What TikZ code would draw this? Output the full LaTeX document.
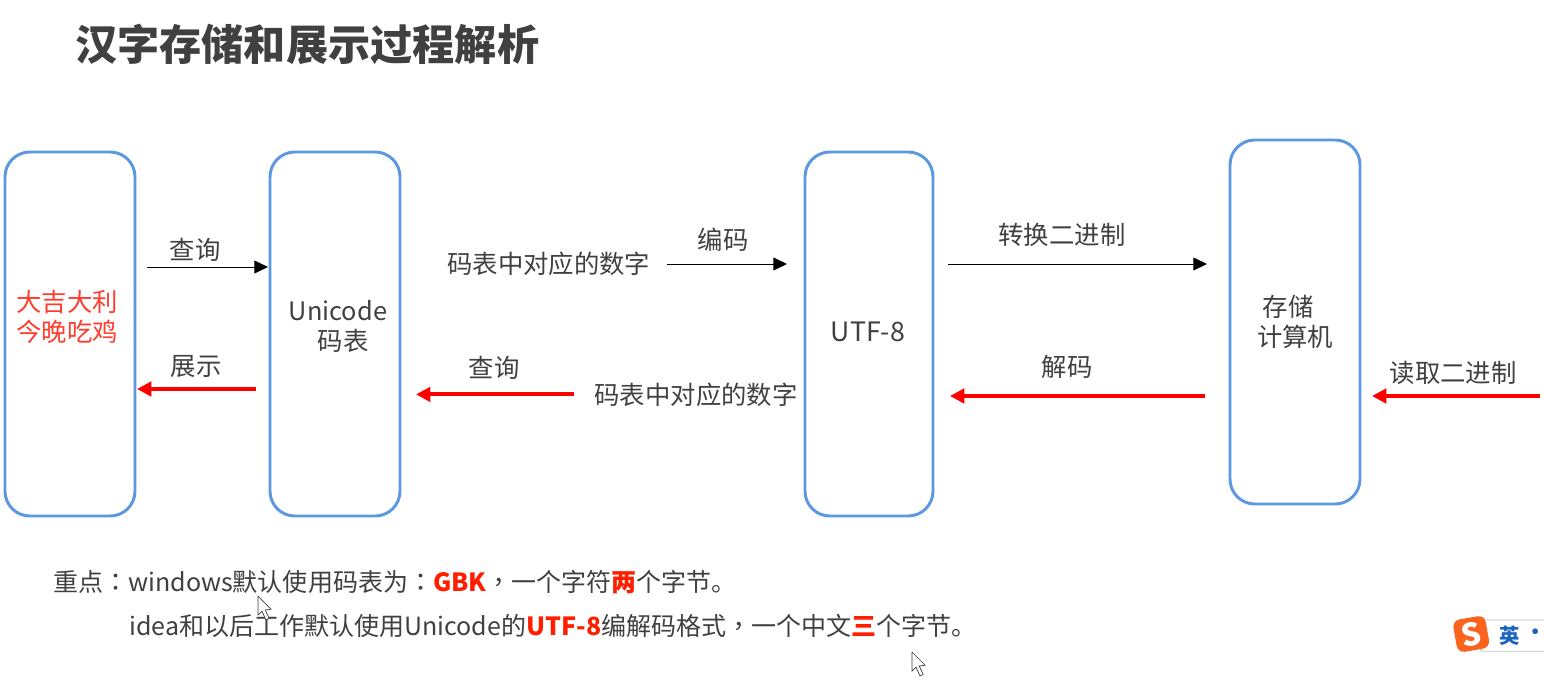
\documentclass[tikz,border=0pt]{standalone}
\usepackage{fontspec}
\setmainfont{Noto Sans CJK SC}
\newfontfamily\cjktc{Noto Sans CJK TC}
\usetikzlibrary{positioning, arrows.meta}

\definecolor{boxblue}{RGB}{91,152,224}
\definecolor{inkgrey}{RGB}{64,64,64}
\definecolor{keyred}{RGB}{255,30,0}
\definecolor{softred}{RGB}{255,60,45}
\definecolor{sogouorange}{RGB}{250,100,30}
\definecolor{sogoublue}{RGB}{25,100,190}
\newcommand{\keyword}[1]{\textcolor{keyred}{\bfseries #1}}
\newcommand{\midpunct}[1]{{\cjktc #1}}

\begin{document}
\begin{tikzpicture}[
    node distance = 0.55cm and 3.375cm,
    font = \fontsize{18.05}{21.3}\selectfont,
    text = inkgrey,
    %% ── node styles ──────────────────────────────────────────
    flowbox/.style = {draw=boxblue, line width=2.1pt, rounded corners=0.62cm,
                      minimum width=3.25cm, minimum height=9.1cm, outer sep=0pt},
    boxtext/.style = {align=center, inner sep=0pt},
    lbl/.style     = {inner sep=0pt},
    note/.style    = {anchor=west, inner sep=0pt, font=\fontsize{17.8}{21.3}\selectfont},
    blackarr/.style = {-{Triangle[length=0.34cm, width=0.32cm]}, black, line width=0.7pt},
    redarr/.style   = {-{Triangle[length=0.36cm, width=0.36cm]}, red, line width=2.8pt},
    mousepic/.pic = {
        \draw[fill=white, draw=inkgrey, line width=0.5pt, line join=round]
            (0,0) -- (0,-0.48) -- (0.1,-0.38) -- (0.2,-0.6) -- (0.28,-0.56)
            -- (0.18,-0.35) -- (0.33,-0.33) -- cycle;
    }
]
\useasboundingbox (0,0) rectangle (38.6,-17.05);

%% ── Title ────────────────────────────────────────────────────
\node[note, font=\fontsize{30}{36}\selectfont\bfseries] (title) at (1.875,-1.1)
    {汉字存储和展示过程解析};

%% ── Boxes ────────────────────────────────────────────────────
\node[flowbox] (charbox) at (1.75,-8.35) {};
\node[flowbox, right=of charbox] (unibox) {};
\node[flowbox, minimum width=3.2cm, right=10.125cm of unibox] (utfbox) {};
\node[flowbox, right=7.425cm of utfbox, yshift=0.3cm] (storebox) {};

%% ── Box texts ────────────────────────────────────────────────
\node[boxtext, text=softred] (chartext) at (1.675,-7.93) {大吉大利\\今晚吃鸡};
\node[boxtext] (unitext) at (8.45,-8.15) {Unicode\\\hspace*{0.25cm}码表};
\node[boxtext, font=\fontsize{19}{22}\selectfont] (utftext) at (21.7,-8.3) {UTF-8};
\node[boxtext] (storetext) at (32.38,-8.05) {存储\hspace*{0.35cm}\\计算机};

%% ── Numbers between the boxes ────────────────────────────────
\node[lbl] (numup) at (13.72,-6.6) {码表中对应的数字};
\node[lbl] (numdown) at (17.4,-9.86) {码表中对应的数字};

%% ── Arrow labels ─────────────────────────────────────────────
\node[lbl] (lookup)  at (4.875,-6.25) {查询};
\node[lbl] (encode)  at (18.08,-6)    {编码};
\node[lbl] (tobin)   at (26.55,-5.88) {转换二进制};
\node[lbl] (readbin) at (36.33,-9.33) {读取二进制};
\node[lbl] (decode)  at (26.68,-9.18) {解码};
\node[lbl] (query)   at (12.35,-9.2)  {查询};
\node[lbl] (show)    at (4.9,-9.15)   {展示};

%% ── Arrows: top row ──────────────────────────────────────────
\draw[blackarr, shorten <=0.3cm, shorten >=0.05cm]
    ([yshift=1.675cm]charbox.east) -- ([yshift=1.675cm]unibox.west);
\draw[blackarr, shorten <=0.4cm, shorten >=0.45cm]
    (numup.east) -- (numup.east -| utfbox.west);
\draw[blackarr, shorten <=0.375cm, shorten >=0.575cm]
    ([yshift=1.75cm]utfbox.east) -- ([yshift=1.75cm]utfbox.east -| storebox.west);

%% ── Arrows: bottom row ───────────────────────────────────────
\coordinate (readin) at (38.5,-9.9);
\draw[redarr, shorten >=0.3cm] (readin) -- (readin -| storebox.east);
\draw[redarr, shorten <=0.625cm, shorten >=0.425cm]
    ([yshift=-1.55cm]utfbox.east -| storebox.west) -- ([yshift=-1.55cm]utfbox.east);
\draw[redarr, shorten <=0.5cm, shorten >=0.4cm]
    (numdown.west) -- (numdown.west -| unibox.east);
\draw[redarr, shorten <=0.35cm, shorten >=0.05cm]
    ([yshift=-1.375cm]unibox.west) -- ([yshift=-1.375cm]charbox.east);

%% ── Notes ────────────────────────────────────────────────────
\node[note] (noteone) at (1.325,-14.55)
    {重点\midpunct{：}windows默认使用码表为\midpunct{：}\keyword{GBK}\midpunct{，}一个字符\keyword{两}个字节。};
\node[note] (notetwo) at (3.225,-15.65)
    {idea和以后工作默认使用Unicode的\keyword{UTF-8}编解码格式\midpunct{，}一个中文\keyword{三}个字节。};

%% ── Mouse pointers ───────────────────────────────────────────
\pic at (6.45,-14.9) {mousepic};
\pic at (22.8,-16.3) {mousepic};

%% ── Input method badge ───────────────────────────────────────
\draw[draw=black!25, line width=0.6pt, rounded corners=2pt]
    (38.6,-15.5) -- (37,-15.5) -- (37,-16.28) -- (38.6,-16.28);
\node[fill=sogouorange, rounded corners=0.18cm, rotate=10, minimum size=0.82cm,
      inner sep=0pt, text=white, font=\fontsize{22}{22}\selectfont\bfseries] (sogou)
    at (36.78,-15.85) {S};
\node[lbl, text=sogoublue, font=\fontsize{14.5}{16}\selectfont\bfseries] (ime) at (37.75,-15.9) {英};
\node[lbl, text=sogoublue, font=\fontsize{14.5}{16}\selectfont\bfseries] (imedot) at (38.4,-15.85) {•};

\end{tikzpicture}
\end{document}
